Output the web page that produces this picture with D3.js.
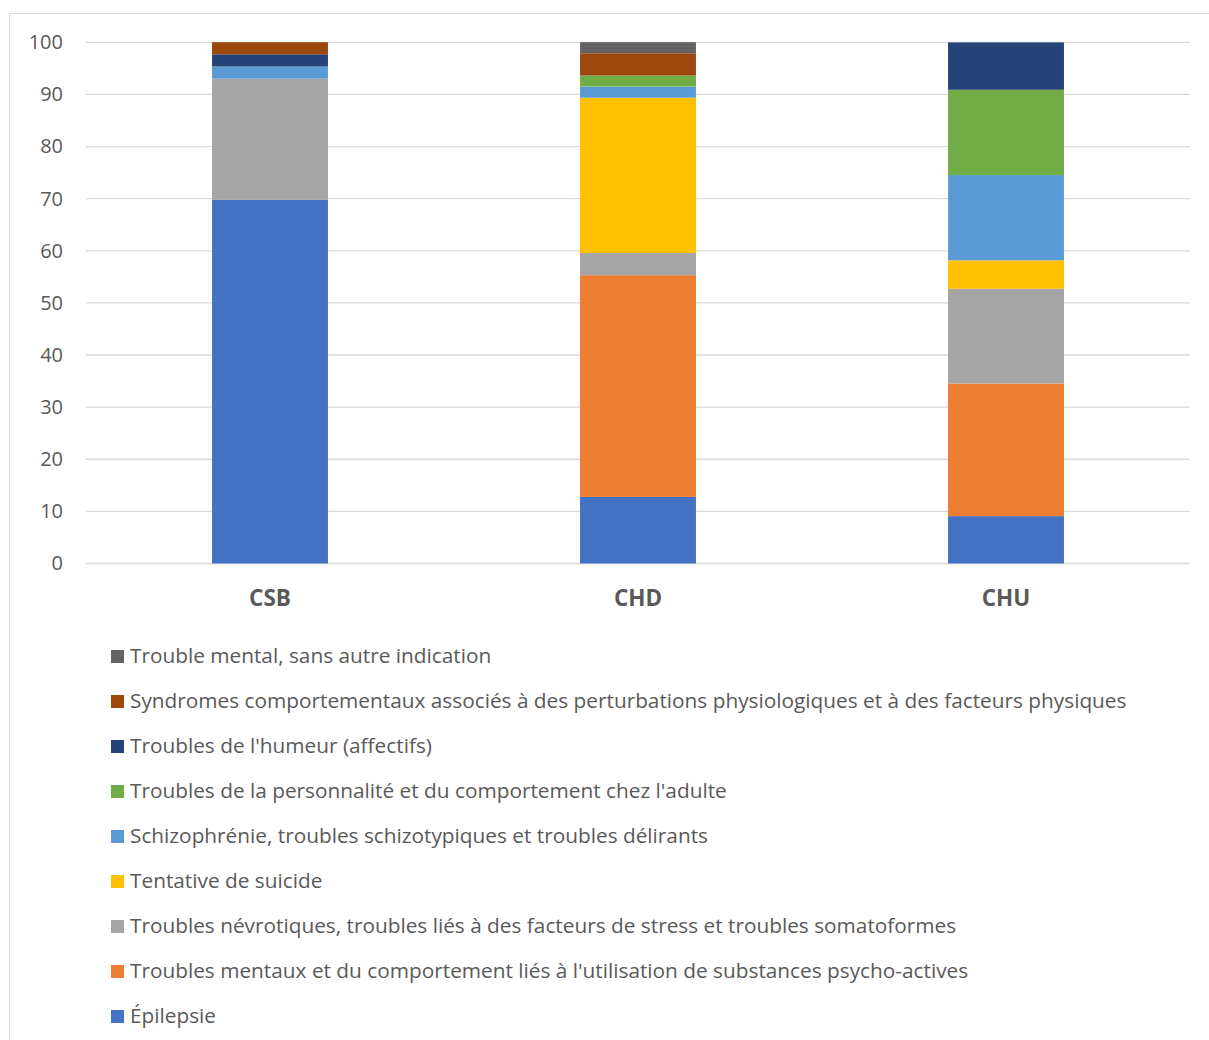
<!DOCTYPE html>
<html>
<head>
<meta charset="utf-8">
<script src="https://cdn.jsdelivr.net/npm/d3@7"></script>
<style>
  body { margin: 0; background: #fff; }
  text { font-family: "Open Sans", Lato, sans-serif; }
</style>
</head>
<body>
<script>
let w = 1209;
let h = 1040;

// categories (x axis)
var sites = ["CSB", "CHD", "CHU"];

// series, stacking order bottom -> top
var seriesNames = [
    "Épilepsie",
    "Troubles mentaux et du comportement liés à l'utilisation de substances psycho-actives",
    "Troubles névrotiques, troubles liés à des facteurs de stress et troubles somatoformes",
    "Tentative de suicide",
    "Schizophrénie, troubles schizotypiques et troubles délirants",
    "Troubles de la personnalité et du comportement chez l'adulte",
    "Troubles de l'humeur (affectifs)",
    "Syndromes comportementaux associés à des perturbations physiologiques et à des facteurs physiques",
    "Trouble mental, sans autre indication"
];
var seriesColors = ["#4472C4", "#ED7D31", "#A5A5A5", "#FFC000", "#5B9BD5", "#70AD47", "#264478", "#9E480E", "#636363"];

// values in %, one per site (CSB, CHD, CHU)
var epilepsie    = [69.77, 12.77, 9.09];
var substances   = [0, 42.55, 25.45];
var nevrotiques  = [23.26, 4.26, 18.18];
var tentative    = [0, 29.79, 5.45];
var schizo       = [2.33, 2.13, 16.36];
var personnalite = [0, 2.13, 16.36];
var humeur       = [2.33, 0, 9.09];
var syndromes    = [2.33, 4.26, 0];
var troubleMental = [0, 2.13, 0];

var yTicks = [0, 10, 20, 30, 40, 50, 60, 70, 80, 90, 100];

var allSeries = [epilepsie, substances, nevrotiques, tentative, schizo, personnalite, humeur, syndromes, troubleMental];

// table for d3.stack
var table = sites.map((s, i) => {
    var row = { site: s };
    seriesNames.forEach((n, k) => { row[n] = allSeries[k][i]; });
    return row;
});

var svg = d3.select("body").append("svg")
    .attr("width", w)
    .attr("height", h);

// chart frame
svg.append("rect")
    .attr("x", 9.5).attr("y", 13.5)
    .attr("width", 1220).attr("height", 1040)
    .attr("fill", "none")
    .attr("stroke", "#D9D9D9");

var plot = { left: 86, right: 1190, top: 42.3, bottom: 563.5 };

var x = d3.scaleBand().domain(sites).range([plot.left, plot.right]).padding(0);
var y = d3.scaleLinear().domain([0, 100]).range([plot.bottom, plot.top]);

// gridlines
svg.append("g").selectAll("line").data(yTicks).enter().append("line")
    .attr("x1", plot.left).attr("x2", plot.right)
    .attr("y1", d => y(d)).attr("y2", d => y(d))
    .attr("stroke", "#D9D9D9")
    .attr("stroke-width", 1.3);

// y axis labels
var yAxis = svg.append("g")
    .attr("transform", `translate(${plot.left - 23},0)`)
    .call(d3.axisLeft(y).tickValues(yTicks).tickSize(0).tickPadding(0));
yAxis.select(".domain").remove();
yAxis.selectAll("text")
    .attr("fill", "#595959")
    .style("font-size", "20px")
    .style("font-family", "'Open Sans', sans-serif");

// bars
var stack = d3.stack().keys(seriesNames);
var layers = stack(table);
var barW = x.bandwidth() * 0.315;

svg.append("g").selectAll("g").data(layers).enter().append("g")
    .attr("fill", (d, i) => seriesColors[i])
    .selectAll("rect").data(d => d).enter().append("rect")
    .attr("x", d => x(d.data.site) + (x.bandwidth() - barW) / 2)
    .attr("y", d => y(d[1]))
    .attr("width", barW)
    .attr("height", d => y(d[0]) - y(d[1]));

// x axis labels
var xAxis = svg.append("g")
    .attr("transform", `translate(0,${plot.bottom + 27})`)
    .call(d3.axisBottom(x).tickSize(0).tickPadding(0));
xAxis.select(".domain").remove();
xAxis.selectAll("text")
    .attr("fill", "#595959")
    .style("font-size", "22.5px")
    .style("font-weight", "bold")
    .style("font-family", "'Open Sans', sans-serif");

// legend, top item = last series
var legendItems = seriesNames.map((n, i) => ({ name: n, color: seriesColors[i] })).reverse();
var legend = svg.append("g").selectAll("g").data(legendItems).enter().append("g")
    .attr("transform", (d, i) => `translate(111,${656 + i * 45})`);
legend.append("rect")
    .attr("x", 0).attr("y", -6)
    .attr("width", 13).attr("height", 13)
    .attr("fill", d => d.color);
legend.append("text")
    .attr("x", 19).attr("y", 0)
    .attr("dy", "0.35em")
    .attr("fill", "#595959")
    .style("font-size", "20.8px")
    .text(d => d.name);
</script>
</body>
</html>
